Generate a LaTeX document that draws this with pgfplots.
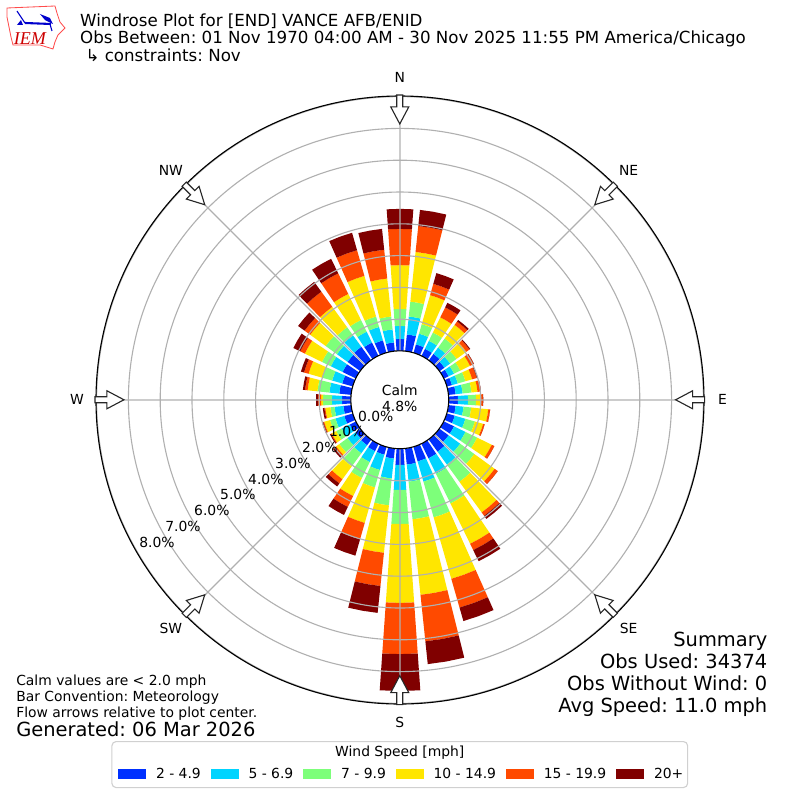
\documentclass[border=0pt]{standalone}
\usepackage{pgfplots}
\usepackage{pgfplotstable}
\pgfplotsset{compat=1.18}
\usepgfplotslibrary{polar}
\usepackage{fontspec}
\setmainfont{DejaVu Sans}
\newfontfamily\logofont{Liberation Serif}[ItalicFont=* Italic]
\frenchspacing
\definecolor{wa}{HTML}{0030FF}
\definecolor{wb}{HTML}{00D4FF}
\definecolor{wc}{HTML}{7DFF7A}
\definecolor{wd}{HTML}{FFE600}
\definecolor{we}{HTML}{FF4A00}
\definecolor{wf}{HTML}{800000}
\definecolor{gridc}{HTML}{B0B0B0}
\newcommand\fs[1]{\fontsize{#1bp}{#1bp}\selectfont}
% cumulative percent of observations per direction and speed bin
\pgfplotstableread{
dir c0 c1 c2 c3 c4 c5 c6
0 0 .38 .79 1.32 2.70 3.84 4.47
10 0 .53 1.10 1.57 3.14 3.96 4.47
20 0 .28 .63 .94 1.89 2.26 2.61
30 0 .25 .53 .82 1.35 1.70 1.86
40 0 .25 .50 .85 1.38 1.51 1.57
50 0 .19 .41 .66 1.04 1.16 1.19
60 0 .16 .35 .57 .91 1.04 1.05
70 0 .16 .35 .60 .82 .97 .99
80 0 .22 .44 .72 .91 1.01 1.02
90 0 .28 .60 .85 1.01 1.07 1.08
100 0 .22 .47 .71 1.25 1.31 1.31
110 0 .25 .60 .91 1.18 1.23 1.23
120 0 .35 .75 1.16 1.67 1.76 1.76
130 0 .35 .80 1.35 2.14 2.26 2.26
140 0 .47 .97 1.64 2.83 2.96 3.08
150 0 .50 1.04 2.08 3.49 3.71 4.10
160 0 .47 1.13 2.30 4.31 5.25 5.69
170 0 .50 1.04 2.23 4.62 6.09 6.81
180 0 .50 1.29 2.36 4.84 6.45 7.61
190 0 .31 .94 1.79 3.29 4.34 5.19
200 0 .25 .75 1.32 2.48 3.02 3.55
210 0 .25 .63 1.19 1.82 2.20 2.48
220 0 .22 .53 1.04 1.54 1.70 1.82
230 0 .19 .50 .82 .94 1.01 1.07
240 0 .22 .50 .69 .85 .88 .91
250 0 .28 .57 .75 .94 .97 1.01
260 0 .25 .53 .66 .82 .85 .90
270 0 .28 .60 .88 .94 1.04 1.10
280 0 .38 .69 1.07 1.38 1.46 1.53
290 0 .35 .68 1.01 1.45 1.60 1.70
300 0 .47 .88 1.19 1.79 1.95 2.19
310 0 .50 .91 1.35 1.95 2.17 2.42
320 0 .53 .97 1.29 2.08 2.67 3.05
330 0 .47 .85 1.26 2.17 2.89 3.40
340 0 .41 .85 1.19 2.52 3.36 3.93
350 0 .28 .69 1.10 2.30 3.21 3.87
}\rose
\newcommand\bandplot[3]{%
 \gdef\wedgepath{}%
 \pgfplotsforeachungrouped \i in {0,...,35}{%
  \pgfplotstablegetelem{\i}{dir}\of\rose \let\dd\pgfplotsretval
  \pgfplotstablegetelem{\i}{#1}\of\rose \let\lo\pgfplotsretval
  \pgfplotstablegetelem{\i}{#2}\of\rose \let\up\pgfplotsretval
  \pgfmathsetmacro\am{90-\dd}%
  \pgfmathsetmacro\aa{\am-4}%
  \pgfmathsetmacro\ab{\am+4}%
  \pgfmathsetmacro\rl{\lo+1.541}%
  \pgfmathsetmacro\ru{\up+1.541}%
  \xdef\wedgepath{\wedgepath (\aa,\rl) (\aa,\ru) (\am,\ru) (\ab,\ru) (\ab,\rl) (\am,\rl) (\aa,\rl) (nan,nan)}%
 }%
 \edef\tmp{\noexpand\addplot[fill=#3,draw=none,unbounded coords=jump] coordinates {\wedgepath};}\tmp
}
\begin{document}
\begin{tikzpicture}
\path[use as bounding box] (0,0) rectangle (8in,-8in);
\begin{polaraxis}[
  at={(4in,-4in)},anchor=center,
  scale only axis,width=6.08in,height=6.08in,
  ymin=0,ymax=9.56,
  xmin=0,xmax=360,
  xtick={0,45,90,135,180,225,270,315},
  xticklabels={},
  ytick={2.541,3.541,4.541,5.541,6.541,7.541,8.541,9.541},
  yticklabels={},
  major tick length=0pt,
  xmajorgrids=true,ymajorgrids=true,
  grid style={gridc,line width=0.8bp},
  separate axis lines,
  x axis line style={black,line width=0.8bp},
  y axis line style={draw=none},
  axis on top,
  legend columns=6,
  legend cell align=left,
  legend style={at={(0.0362,-0.115)},anchor=west,draw=none,fill=none,inner sep=0pt,font=\fs{10},
     /tikz/every even column/.append style={column sep=5.2bp}},
  legend image code/.code={\fill[#1] (0in,-0.05in) rectangle (0.28in,0.05in);\path (0.35in,0in);},
]
\bandplot{c0}{c1}{wa}\addlegendentry{2 - 4.9}
\bandplot{c1}{c2}{wb}\addlegendentry{5 - 6.9}
\bandplot{c2}{c3}{wc}\addlegendentry{7 - 9.9}
\bandplot{c3}{c4}{wd}\addlegendentry{10 - 14.9}
\bandplot{c4}{c5}{we}\addlegendentry{15 - 19.9}
\bandplot{c5}{c6}{wf}\addlegendentry{20+}
\end{polaraxis}
\begin{scope}[x=0.01in,y=-0.01in]
% hole
\draw[black,fill=white,line width=0.8bp] (400,400) circle (49);
\foreach \a in {0,45,...,315}{
  \draw[rotate around={\a:(400,400)},fill=white,draw=black!85,line width=0.8bp,line join=miter]
    (397,95) -- (403,95) -- (403,107) -- (409,107) -- (400,124) -- (391,107) -- (397,107) -- cycle;
}
\foreach \x/\y/\t in {400/77/N,629/171/NE,723/400/E,629/629/SE,400/723/S,171/629/SW,77/400/W,171/171/NW}
  \node[font=\fs{10},inner sep=0pt] at (\x,\y) {\t};
\node[font=\fs{10}] at (400,391) {Calm};
\node[font=\fs{10}] at (400,407) {4.8\%};
\foreach \x/\y/\t in {376/417/0.0,347/432/1.0,320/448/2.0,293/464/3.0,266/480/4.0,238/495/5.0,212/511/6.0,183/527/7.0,157/543/8.0}
  \node[font=\fs{10},inner sep=0pt] at (\x,\y) {\t\%};
% titles
\node[anchor=base west,inner sep=0pt,font=\fs{12}] at (80,26.5) {Windrose Plot for [END] VANCE AFB/ENID};
\node[anchor=base west,inner sep=0pt,font=\fs{12}] at (80,44) {Obs Between: 01 Nov 1970 04:00 AM - 30 Nov 2025 11:55 PM America/Chicago};
\node[anchor=base west,inner sep=0pt,font=\fs{12}] at (80,61.5) {\ ↳ constraints: Nov};
% summary
\foreach \y/\t in {646.5/Summary,668.5/Obs Used: 34374,690.5/Obs Without Wind: 0,712.5/Avg Speed: 11.0 mph}
  \node[anchor=base east,inner sep=0pt,font=\fs{14}] at (768,\y) {\t};
\foreach \y/\t in {686/Calm values are < 2.0 mph,702/Bar Convention: Meteorology,718/Flow arrows relative to plot center.}
  \node[anchor=base west,inner sep=0pt,font=\fs{10}] at (16,\y) {\t};
\node[anchor=base west,inner sep=0pt,font=\fs{14}] at (16,737) {Generated: 06 Mar 2026};
% legend box
\draw[gridc!60,line width=0.8bp,rounded corners=3] (112,742) rectangle (688,788);
\node[font=\fs{10}] at (400,753) {Wind Speed [mph]};
% logo
\draw[red!70!white,line width=0.6bp] (7,8)--(55,6)--(57,13)--(60,22)--(65,28)--(58,35)--(55,42)--(53,49)--(40,45)--(13,45)--(11,37)--(9,27)--(7,17)--cycle;
\draw[blue!80!black,line width=1.5bp] (25,23)--(51,24);
\draw[blue!80!black,line width=0.8bp] (17,11)--(25,23);
\fill[blue!80!black] (40,14)--(50,18)--(53,24)--(45,20)--cycle;
\fill[blue!80!black] (17,25)--(21,20)--(23,25)--cycle;
\draw[blue!80!black,line width=0.8bp] (50,24)--(52,31);
\node[inner sep=0pt,text=red!80!black,font=\fs{13}\logofont\itshape] at (30,38.5) {IEM};
\end{scope}
\end{tikzpicture}
\end{document}
